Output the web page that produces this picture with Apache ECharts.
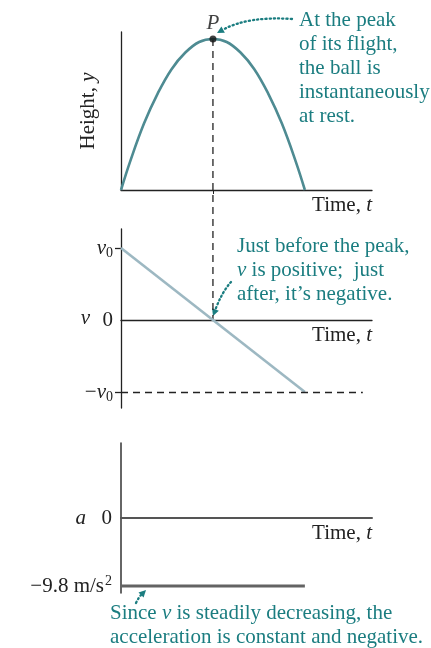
<!DOCTYPE html>
<html>
<head>
<meta charset="utf-8">
<script src="https://cdn.jsdelivr.net/npm/echarts@6/dist/echarts.min.js"></script>
<style>
html, body { margin: 0; padding: 0; background: #fff; }
#motion { width: 431px; height: 648px; }
</style>
</head>
<body>
<div id="motion"></div>
<script>
// values (time in units of peak time, height in units of max height)
const heightTime = [0, 0.1, 0.25, 0.4, 0.55, 0.7, 0.85, 1, 1.15, 1.3, 1.45, 1.6, 1.75, 1.9, 2];
const heightVals = [0, 0.19, 0.44, 0.64, 0.8, 0.91, 0.98, 1, 0.98, 0.91, 0.8, 0.64, 0.44, 0.19, 0];
const velTime = [0, 2];
const velVals = [1, -1];          // v0 -> -v0
const accTime = [0, 2];
const accVals = [-9.8, -9.8];     // m/s^2
const peak = [1, 1];
const velTicks = [1, 0, -1];
const velTickLabels = ['{i|v}{s|0}', '0', '−{i|v}{s|0}'];
const accTicks = [0, -9.8];
const accTickLabels = ['0', '−9.8 m/s{p|2}'];

const serif = "'Liberation Serif', 'DejaVu Serif', serif";
const teal = '#1b7d80';
const fs = 21;
const rich = {
  i: { fontStyle: 'italic', fontFamily: serif, fontSize: fs, color: '#222' },
  s: { fontFamily: serif, fontSize: 14, color: '#222', verticalAlign: 'bottom', padding: [10, 0, 0, 0] },
  p: { fontFamily: serif, fontSize: 14, color: '#222', verticalAlign: 'top', padding: [0, 0, 10, 1] }
};
const tealRich = {
  i: { fontStyle: 'italic', fontFamily: serif, fontSize: fs, color: teal }
};

const chart = echarts.init(document.getElementById('motion'));

function xAxisFor(idx, lineColor, lineWidth, ticks) {
  return {
    type: 'value', gridIndex: idx, min: 0, max: 2.73,
    splitLine: { show: false },
    axisLabel: { show: false },
    axisTick: ticks ? { show: true, customValues: ticks, length: 4, lineStyle: { color: '#222' } } : { show: false },
    axisLine: { lineStyle: { color: lineColor, width: lineWidth } },
    name: 'Time, {i|t}',
    nameLocation: 'end',
    nameGap: 0,
    nameTextStyle: { fontFamily: serif, fontSize: fs, color: '#222', align: 'right', verticalAlign: 'top', padding: [5, 0, 0, 0], rich: rich }
  };
}

const option = {
  animation: false,
  textStyle: { fontFamily: serif },
  grid: [
    { left: 121, top: 32, width: 251, height: 158 },
    { left: 121, top: 229, width: 251, height: 179 },
    { left: 121, top: 443, width: 251, height: 150 }
  ],
  xAxis: [
    xAxisFor(0, '#222', 1.3, [1]),
    xAxisFor(1, '#222', 1.3, null),
    xAxisFor(2, '#555', 2, null)
  ],
  yAxis: [
    {
      type: 'value', gridIndex: 0, min: 0, max: 1.046,
      splitLine: { show: false }, axisLabel: { show: false }, axisTick: { show: false },
      axisLine: { show: true, lineStyle: { color: '#222', width: 1.3 } },
      name: 'Height, {i|y}', nameLocation: 'middle', nameRotate: 90, nameGap: 22,
      nameTextStyle: { fontFamily: serif, fontSize: fs, color: '#222', rich: rich }
    },
    {
      type: 'value', gridIndex: 1, min: -1.222, max: 1.264,
      splitLine: { show: false },
      axisLine: { show: true, onZero: false, lineStyle: { color: '#222', width: 1.3 } },
      axisTick: { show: true, customValues: [1, -1], length: 6, lineStyle: { color: '#222', width: 1.3 } },
      axisLabel: {
        customValues: velTicks, margin: 8, fontFamily: serif, fontSize: fs, color: '#222', rich: rich,
        formatter: function (v) { return velTickLabels[velTicks.indexOf(v)]; }
      },
      name: '{i|v}', nameLocation: 'middle', nameRotate: 0, nameGap: 31, nameMoveOverlap: false,
      nameTextStyle: { fontFamily: serif, fontSize: fs, color: '#222', rich: rich }
    },
    {
      type: 'value', gridIndex: 2, min: -10.8, max: 10.8,
      splitLine: { show: false },
      axisLine: { show: true, onZero: false, lineStyle: { color: '#333', width: 1.5 } },
      axisTick: { show: false },
      axisLabel: {
        customValues: accTicks, margin: 9, fontFamily: serif, fontSize: fs, color: '#222', rich: rich,
        formatter: function (v) { return accTickLabels[accTicks.indexOf(v)]; }
      },
      name: '{i|a}', nameLocation: 'middle', nameRotate: 0, nameGap: 35, nameMoveOverlap: false,
      nameTextStyle: { fontFamily: serif, fontSize: fs, color: '#222', rich: rich }
    }
  ],
  series: [
    {
      type: 'line', xAxisIndex: 0, yAxisIndex: 0, smooth: 0.4, showSymbol: false,
      lineStyle: { color: '#4e8b92', width: 2.6 },
      data: heightTime.map((t, i) => [t, heightVals[i]])
    },
    {
      type: 'scatter', xAxisIndex: 0, yAxisIndex: 0, symbolSize: 7, z: 5,
      itemStyle: { color: '#111' },
      label: { show: true, formatter: 'P', position: 'top', distance: 1, offset: [0, 0],
        fontFamily: serif, fontStyle: 'italic', fontSize: fs, color: '#111' },
      data: [peak]
    },
    {
      type: 'line', xAxisIndex: 1, yAxisIndex: 1, showSymbol: false,
      lineStyle: { color: '#9db8c2', width: 2.6 },
      data: velTime.map((t, i) => [t, velVals[i]]),
      markLine: {
        silent: true, symbol: 'none', label: { show: false },
        lineStyle: { color: '#222', type: [7, 5], width: 1.3 },
        data: [[{ coord: [0, velVals[1]] }, { coord: [2.63, velVals[1]] }]]
      }
    },
    {
      type: 'line', xAxisIndex: 2, yAxisIndex: 2, showSymbol: false,
      lineStyle: { color: '#636363', width: 3 },
      data: accTime.map((t, i) => [t, accVals[i]])
    }
  ]
};
chart.setOption(option);

// dotted annotation arrows
function arrow(x0, y0, cx, cy, x1, y1) {
  let dx = x1 - cx, dy = y1 - cy;
  const len = Math.sqrt(dx * dx + dy * dy);
  dx /= len; dy /= len;
  const hl = 7, hw = 3.6;
  const bx = x1 - dx * hl, by = y1 - dy * hl;
  return [
    { type: 'bezierCurve', silent: true,
      shape: { x1: x0, y1: y0, cpx1: cx, cpy1: cy, x2: bx, y2: by },
      style: { stroke: teal, fill: null, lineWidth: 2.3, lineDash: [1.2, 3], lineCap: 'round' } },
    { type: 'polygon', silent: true,
      shape: { points: [[x1, y1], [bx - dy * hw, by + dx * hw], [bx + dy * hw, by - dx * hw]] },
      style: { fill: teal } }
  ];
}

const pTop = chart.convertToPixel({ gridIndex: 0 }, peak);
const pZero = chart.convertToPixel({ gridIndex: 1 }, [peak[0], 0]);

const textStyle = { fontFamily: serif, fontSize: fs, lineHeight: 24, fill: teal, rich: tealRich };

chart.setOption({
  graphic: [
    { type: 'line', silent: true, z: 1,
      shape: { x1: pTop[0], y1: pTop[1], x2: pZero[0], y2: pZero[1] },
      style: { stroke: '#222', lineWidth: 1.3, lineDash: [7, 5] } },
    { type: 'text', left: 299, top: 8,
      style: Object.assign({ text: 'At the peak\nof its flight,\nthe ball is\ninstantaneously\nat rest.' }, textStyle) },
    { type: 'text', left: 237, top: 234,
      style: Object.assign({ text: 'Just before the peak,\n{i|v} is positive;  just\nafter, it’s negative.' }, textStyle) },
    { type: 'text', left: 110, top: 601,
      style: Object.assign({ text: 'Since {i|v} is steadily decreasing, the\nacceleration is constant and negative.' }, textStyle) }
  ]
    .concat(arrow(292, 19, 248, 16, 217, 33))
    .concat(arrow(231, 282, 222, 292, 213, 316))
    .concat(arrow(136, 603, 139, 597, 146, 590))
});
</script>
</body>
</html>
